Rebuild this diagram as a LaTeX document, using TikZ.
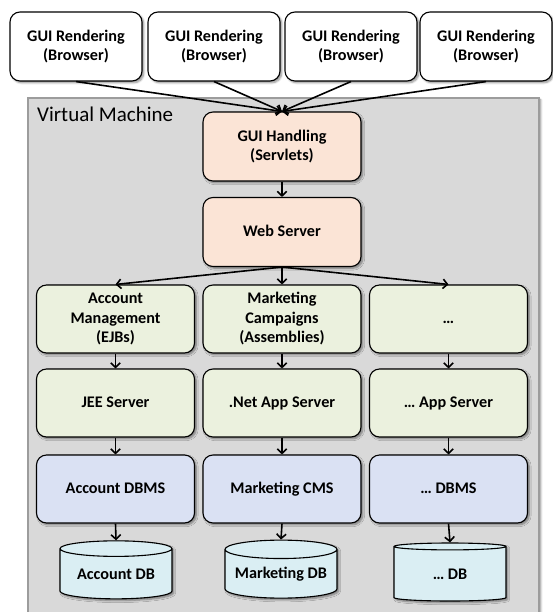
\documentclass[tikz,border=0pt]{standalone}
\usepackage{fontspec}
\setmainfont{Carlito}
\usetikzlibrary{shapes.geometric,shadows.blur,arrows.meta}
\definecolor{peach}{HTML}{FBE4D6}
\definecolor{sage}{HTML}{EBF1DE}
\definecolor{lavender}{HTML}{DAE1F3}
\definecolor{aqua}{HTML}{DAEEF3}
\definecolor{vmgray}{HTML}{D9D9D9}
\definecolor{vmborder}{HTML}{9C9C9C}
\begin{document}
\begin{tikzpicture}[x=1pt,y=-1pt,
  softshadow/.style={blur shadow={shadow xshift=1.8pt,shadow yshift=-1.8pt,shadow blur steps=6,shadow opacity=45}},
  label font/.style={font=\bfseries\fontsize{16.2}{19.5}\selectfont},
  box/.style={draw=black, line width=1.1pt, rounded corners=10pt, align=center,
    label font, inner sep=0pt, softshadow},
  oneline/.style={text height=11.5pt, text depth=3.5pt},
  client/.style={box, fill=white, minimum width=132pt, minimum height=69pt},
  front/.style={box, fill=peach, minimum width=158pt, minimum height=69pt},
  tier/.style={box, fill=sage, minimum width=158pt, minimum height=68pt},
  store/.style={box, fill=lavender, minimum width=158pt, minimum height=68pt, oneline},
  db/.style={draw=black, line width=1.1pt, fill=aqua, cylinder, shape border rotate=90,
    aspect=0.2, minimum width=112pt, minimum height=58pt, inner sep=0pt,
    label font, softshadow},
  link/.style={-{Straight Barb[length=4.5pt,width=9.5pt]}, line width=1.6pt}]
\useasboundingbox (0,0) rectangle (553,612);

% container
\node[draw=vmborder, fill=vmgray, line width=2pt, anchor=north west,
  minimum width=511pt, minimum height=530pt, inner sep=0pt, softshadow] (vm) at (27,97) {};
\node[anchor=base west, inner sep=0pt, font=\fontsize{21}{25}\selectfont] (vmlabel) at (37,122) {Virtual Machine};

% browsers
\node[client] (b1) at (76,46.5) {GUI Rendering\\(Browser)};
\node[client] (b2) at (214,46.5) {GUI Rendering\\(Browser)};
\node[client] (b3) at (351,46.5) {GUI Rendering\\(Browser)};
\node[client] (b4) at (486,46.5) {GUI Rendering\\(Browser)};

% front end
\node[front] (gui) at (282,146.5) {GUI Handling\\(Servlets)};
\node[front, oneline] (web) at (282,232) {Web Server};

% application tier
\node[tier] (a1) at (115.5,319) {Account\\Management\\(EJBs)};
\node[tier] (a2) at (282,319) {Marketing\\Campaigns\\(Assemblies)};
\node[tier, oneline] (a3) at (448.5,319) {…};

\node[tier, oneline] (s1) at (115.5,403) {JEE Server};
\node[tier, oneline] (s2) at (282,403) {.Net App Server};
\node[tier, oneline] (s3) at (448.5,403) {… App Server};

% storage
\node[store] (m1) at (115.5,489) {Account DBMS};
\node[store] (m2) at (282,489) {Marketing CMS};
\node[store] (m3) at (448.5,489) {… DBMS};

\node[db] (d1) at (116,574) {\raisebox{-5pt}{Account DB}};
\node[db] (d2) at (281,574) {\raisebox{-5pt}{Marketing DB}};
\node[db] (d3) at (450,574) {\raisebox{-5pt}{… DB}};

% connectors
\foreach \b in {b1,b2,b3,b4} \draw[link] (\b.south) -- (gui.north);
\draw[link] (gui) -- (web);
\foreach \a in {a1,a2,a3} \draw[link] (web.south) -- (\a.north);
\foreach \i in {1,2,3} {
  \draw[link] (a\i) -- (s\i);
  \draw[link] (s\i) -- (m\i);
  \draw[link] (m\i.south) -- (d\i.north);
}
\end{tikzpicture}
\end{document}
